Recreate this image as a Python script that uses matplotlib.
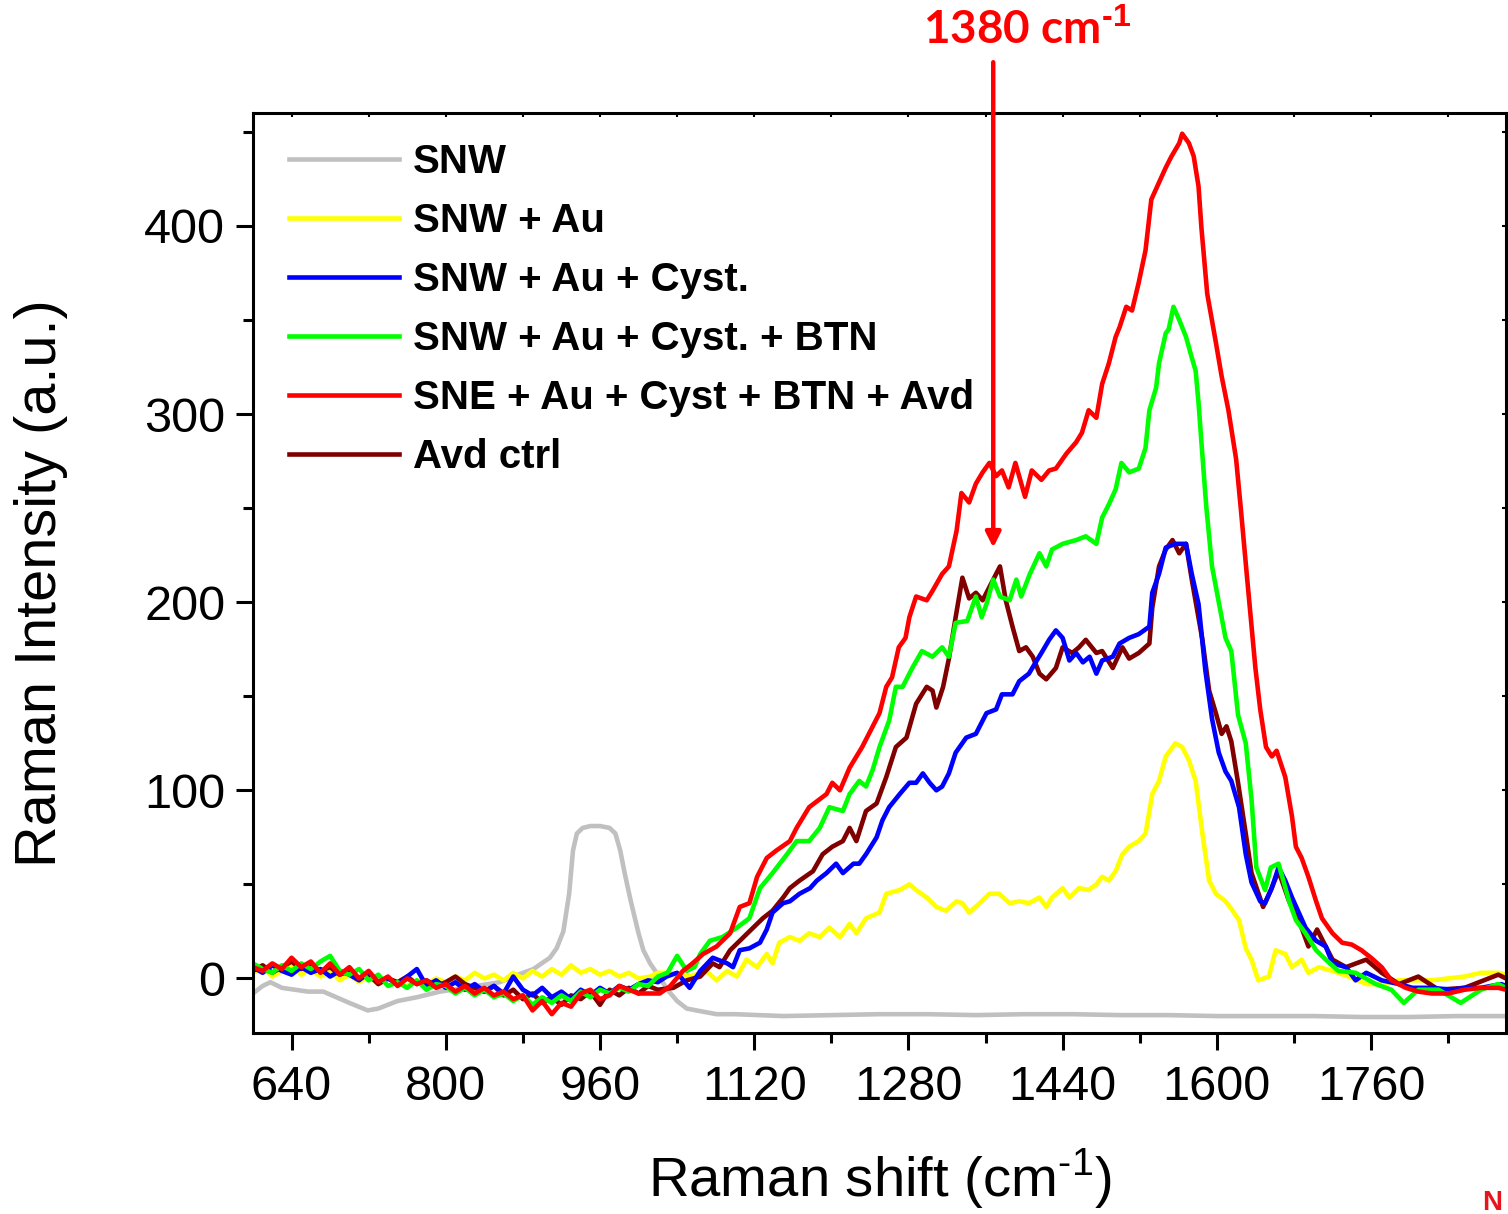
import matplotlib
matplotlib.use("Agg")
import matplotlib.pyplot as plt
from matplotlib.ticker import MultipleLocator
from matplotlib.lines import Line2D

plt.rcParams['font.family'] = ['Liberation Sans', 'DejaVu Sans']
plt.rcParams['mathtext.fontset'] = 'custom'
plt.rcParams['mathtext.rm'] = 'Liberation Sans'
plt.rcParams['mathtext.bf'] = 'Liberation Sans:bold'

# ---- data (Raman shift, intensity) ----
labels = ["SNW", "SNW + Au", "SNW + Au + Cyst.", "SNW + Au + Cyst. + BTN",
          "SNE + Au + Cyst + BTN + Avd", "Avd ctrl"]
colors = ["#c0c0c0", "#ffff00", "#0000ff", "#00ff00", "#ff0000", "#800000"]

snw = [(600, -8), (610, -4), (618, -2), (630, -5), (657, -7), (673, -7), (700, -13),
       (719, -17), (730, -16), (750, -12), (770, -10), (794, -7), (820, -5), (856, -2),
       (875, 2), (891, 5), (908, 11), (915, 16), (922, 25), (928, 45), (932, 68),
       (936, 77), (942, 80), (950, 81), (960, 81), (970, 80), (976, 77), (981, 68),
       (986, 55), (992, 41), (1000, 24), (1005, 15), (1012, 8), (1020, 2), (1030, -6),
       (1040, -12), (1050, -16), (1060, -17), (1081, -19), (1100, -19), (1150, -20),
       (1200, -19.5), (1250, -19), (1300, -19), (1350, -19.5), (1400, -19), (1450, -19),
       (1500, -19.5), (1550, -19.5), (1600, -20), (1650, -20), (1700, -20), (1750, -20.5),
       (1800, -20.5), (1850, -20), (1900, -20)]

snw_au = [(600, 3), (610, 6), (620, 1), (630, 4), (640, 7), (650, 2), (660, 5), (670, 1),
          (680, 4), (690, -1), (700, 2), (710, -2), (720, 1), (730, -3), (740, 0), (750, -2),
          (760, -4), (770, -1), (780, -3), (790, 0), (800, -2), (810, 1), (820, -1), (830, 3),
          (840, 0), (850, 2), (860, -1), (870, 3), (880, 0), (890, 4), (900, 1), (910, 5),
          (920, 2), (930, 7), (940, 3), (950, 5), (960, 2), (970, 4), (980, 1), (990, 3),
          (1000, 0), (1012, 1), (1020, 3), (1033, 3), (1053, 1), (1070, 4), (1081, -1),
          (1092, 4), (1102, 1), (1112, 10), (1123, 6), (1133, 13), (1139, 8), (1146, 19),
          (1157, 22), (1167, 20), (1177, 24), (1188, 22), (1198, 27), (1209, 22), (1219, 29),
          (1226, 24), (1236, 32), (1250, 35), (1257, 45), (1271, 47), (1281, 50), (1288, 47),
          (1299, 43), (1309, 38), (1319, 36), (1330, 41), (1336, 40), (1343, 35), (1354, 40),
          (1364, 45), (1374, 45), (1385, 40), (1395, 41), (1405, 40), (1416, 43), (1423, 38),
          (1429, 43), (1440, 48), (1447, 43), (1457, 48), (1467, 47), (1475, 50), (1481, 54),
          (1488, 52), (1495, 57), (1502, 66), (1509, 70), (1519, 73), (1526, 77), (1533, 98),
          (1540, 105), (1547, 118), (1557, 125), (1564, 123), (1571, 116), (1578, 105),
          (1585, 77), (1592, 52), (1599, 45), (1609, 41), (1615, 37), (1623, 31), (1630, 16),
          (1636, 10), (1643, -1), (1654, 1), (1661, 15), (1671, 13), (1678, 6), (1688, 10),
          (1695, 3), (1706, 6), (1720, 4), (1737, 1), (1755, -3), (1771, -3), (1789, -1),
          (1806, -1), (1823, -1), (1857, 1), (1874, 3), (1892, 3), (1900, 2)]

snw_au_cyst = [(600, 6), (610, 3), (620, 7), (630, 4), (640, 2), (650, 6), (660, 3), (670, 5),
               (680, 1), (690, 4), (700, 2), (710, -1), (720, 3), (730, -2), (740, 0), (750, -3),
               (760, 1), (770, 5), (780, -4), (790, -1), (800, -5), (810, -2), (820, -6),
               (830, -3), (840, -7), (850, -4), (860, -8), (870, 1), (880, -6), (890, -9),
               (900, -5), (910, -10), (920, -7), (930, -11), (940, -6), (950, -9), (960, -5),
               (970, -8), (980, -4), (990, -6), (1000, -3), (1010, -1), (1020, -2), (1029, 1),
               (1040, 3), (1053, -5), (1064, 4), (1077, 11), (1092, 8), (1098, 6), (1105, 15),
               (1115, 16), (1126, 19), (1133, 26), (1139, 35), (1150, 40), (1157, 41),
               (1167, 45), (1178, 48), (1185, 52), (1195, 56), (1205, 61), (1212, 56),
               (1223, 61), (1229, 61), (1236, 66), (1247, 75), (1253, 84), (1260, 91),
               (1271, 98), (1281, 104), (1288, 104), (1295, 109), (1302, 104), (1309, 100),
               (1315, 102), (1322, 109), (1329, 120), (1340, 128), (1350, 130), (1361, 141),
               (1371, 143), (1377, 151), (1388, 151), (1395, 158), (1405, 162), (1412, 168),
               (1418, 173), (1426, 180), (1433, 185), (1440, 181), (1447, 169), (1454, 173),
               (1461, 168), (1468, 171), (1475, 162), (1481, 169), (1492, 171), (1499, 178),
               (1509, 181), (1519, 183), (1530, 187), (1533, 205), (1540, 215), (1547, 229),
               (1557, 231), (1568, 231), (1574, 215), (1581, 199), (1588, 164), (1595, 138),
               (1602, 120), (1609, 110), (1615, 105), (1623, 91), (1630, 66), (1636, 51),
               (1645, 41), (1650, 40), (1657, 48), (1664, 59), (1671, 52), (1678, 43),
               (1685, 35), (1692, 27), (1703, 20), (1713, 17), (1720, 8), (1734, 6), (1744, -1),
               (1755, 3), (1771, -1), (1789, -3), (1803, -5), (1823, -5), (1844, -6),
               (1857, -5), (1874, -5), (1895, -3), (1900, -4)]

snw_au_cyst_btn = [(600, 8), (610, 5), (620, 3), (630, 7), (640, 4), (650, 8), (660, 5),
                   (670, 9), (680, 12), (690, 4), (700, 2), (710, 5), (720, -1), (730, 2),
                   (740, -4), (750, -2), (760, -5), (770, -1), (780, -6), (790, -3), (800, -4),
                   (810, -8), (820, -5), (830, -9), (840, -6), (850, -10), (860, -8), (870, -12),
                   (880, -9), (890, -14), (900, -10), (910, -13), (920, -9), (930, -12),
                   (940, -7), (950, -10), (960, -6), (970, -8), (980, -5), (990, -7), (1000, -3),
                   (1010, -4), (1020, 1), (1030, 3), (1040, 12), (1050, 4), (1058, 6),
                   (1064, 13), (1074, 20), (1087, 22), (1102, 27), (1115, 32), (1126, 48),
                   (1139, 56), (1154, 66), (1164, 73), (1177, 73), (1188, 80), (1198, 91),
                   (1212, 89), (1219, 98), (1229, 105), (1236, 102), (1243, 111), (1250, 123),
                   (1260, 137), (1267, 155), (1274, 155), (1284, 165), (1294, 174), (1305, 171),
                   (1315, 176), (1322, 171), (1329, 189), (1341, 190), (1350, 203), (1356, 192),
                   (1361, 199), (1368, 212), (1375, 203), (1385, 201), (1392, 212), (1397, 203),
                   (1406, 215), (1416, 226), (1423, 219), (1429, 228), (1440, 231), (1454, 233),
                   (1464, 235), (1475, 231), (1481, 245), (1488, 252), (1495, 260), (1501, 274),
                   (1509, 269), (1519, 271), (1526, 282), (1530, 302), (1537, 314), (1540, 327),
                   (1547, 343), (1550, 345), (1555, 357), (1561, 350), (1568, 341), (1574, 330),
                   (1578, 323), (1581, 306), (1584, 285), (1589, 251), (1595, 219), (1602, 200),
                   (1609, 181), (1615, 174), (1622, 140), (1630, 125), (1636, 95), (1641, 59),
                   (1650, 47), (1656, 59), (1664, 61), (1675, 41), (1682, 31), (1692, 24),
                   (1703, 15), (1713, 10), (1726, 4), (1744, 3), (1765, -3), (1781, -6),
                   (1794, -13), (1809, -6), (1830, -6), (1853, -13), (1874, -6), (1892, -3),
                   (1900, -5)]

sne_avd = [(600, 6), (610, 4), (620, 8), (630, 5), (640, 11), (650, 6), (660, 9), (670, 3),
           (680, 8), (690, 2), (700, 6), (710, 0), (720, 4), (730, -2), (740, 1), (750, -4),
           (760, 0), (770, -3), (780, -1), (790, -5), (800, -3), (810, -7), (820, -4), (830, -8),
           (840, -5), (850, -9), (860, -7), (870, -11), (880, -9), (890, -17), (900, -12),
           (910, -19), (920, -13), (930, -15), (940, -8), (950, -6), (960, -11), (970, -9),
           (980, -4), (990, -6), (1000, -8), (1010, -8), (1022, -8), (1033, -4), (1046, 4),
           (1056, 8), (1067, 13), (1081, 17), (1095, 24), (1105, 38), (1115, 40), (1123, 54),
           (1133, 64), (1143, 68), (1157, 73), (1164, 80), (1177, 91), (1195, 98), (1201, 104),
           (1209, 100), (1219, 112), (1232, 123), (1243, 134), (1250, 141), (1257, 155),
           (1263, 160), (1270, 176), (1277, 181), (1281, 192), (1288, 203), (1299, 201),
           (1305, 206), (1315, 215), (1322, 219), (1330, 238), (1335, 258), (1343, 253),
           (1350, 263), (1357, 269), (1364, 274), (1371, 267), (1377, 270), (1384, 261),
           (1391, 274), (1401, 256), (1408, 270), (1418, 265), (1426, 270), (1433, 271),
           (1444, 279), (1454, 285), (1460, 290), (1467, 302), (1475, 298), (1481, 316),
           (1488, 327), (1495, 341), (1499, 346), (1506, 357), (1512, 355), (1519, 370),
           (1526, 387), (1532, 414), (1540, 423), (1547, 431), (1553, 437), (1561, 444),
           (1564, 449), (1571, 444), (1576, 437), (1581, 421), (1584, 399), (1590, 364),
           (1599, 338), (1605, 320), (1612, 302), (1620, 276), (1625, 249), (1631, 215),
           (1640, 165), (1645, 143), (1651, 123), (1657, 118), (1662, 121), (1671, 107),
           (1678, 86), (1682, 70), (1688, 64), (1695, 54), (1703, 41), (1709, 32), (1720, 24),
           (1730, 19), (1740, 18), (1750, 15), (1760, 11), (1771, 6), (1781, -1), (1796, -5),
           (1809, -7), (1823, -8), (1840, -8), (1857, -6), (1874, -5), (1892, -5), (1900, -6)]

avd_ctrl = [(600, 4), (610, 7), (620, 3), (630, 6), (640, 9), (650, 5), (660, 7), (670, 4),
            (680, 6), (690, 2), (700, 4), (710, 0), (720, 2), (730, -3), (740, 0), (750, -2),
            (760, 1), (770, -3), (780, -1), (790, -4), (800, -2), (810, 1), (820, -3), (830, -5),
            (840, -7), (850, -4), (860, -9), (870, -6), (880, -11), (890, -8), (900, -13),
            (910, -10), (920, -14), (930, -9), (940, -11), (950, -7), (960, -14), (970, -6),
            (980, -9), (990, -5), (1000, -8), (1010, -4), (1020, -6), (1036, -5), (1050, -1),
            (1064, 1), (1077, 8), (1084, 6), (1095, 15), (1105, 20), (1119, 27), (1129, 32),
            (1139, 36), (1150, 43), (1157, 48), (1167, 52), (1181, 57), (1191, 66), (1201, 70),
            (1212, 73), (1219, 80), (1226, 73), (1236, 89), (1247, 93), (1257, 107), (1267, 123),
            (1278, 128), (1288, 146), (1299, 155), (1305, 153), (1309, 144), (1316, 155),
            (1322, 170), (1329, 192), (1336, 213), (1343, 202), (1350, 205), (1357, 201),
            (1368, 212), (1375, 219), (1381, 201), (1388, 187), (1395, 174), (1402, 176),
            (1409, 171), (1416, 162), (1423, 159), (1433, 165), (1440, 176), (1450, 173),
            (1457, 176), (1464, 180), (1475, 173), (1481, 174), (1492, 165), (1502, 176),
            (1509, 170), (1519, 173), (1530, 178), (1533, 197), (1540, 219), (1547, 228),
            (1554, 233), (1561, 226), (1568, 231), (1574, 212), (1585, 180), (1592, 153),
            (1599, 141), (1605, 130), (1610, 134), (1615, 126), (1622, 104), (1630, 77),
            (1636, 56), (1648, 38), (1656, 47), (1664, 57), (1675, 41), (1685, 31), (1695, 17),
            (1704, 26), (1713, 17), (1720, 10), (1734, 6), (1755, 10), (1771, 3), (1789, -3),
            (1809, 1), (1830, -6), (1857, -5), (1892, 2), (1900, 0)]

series = [snw, snw_au, snw_au_cyst, snw_au_cyst_btn, sne_avd, avd_ctrl]
draw_order = [0, 1, 5, 2, 3, 4]  # red ends up on top

peak_pos = 1368      # 1380 cm-1 marker (as drawn)
peak_tip = 229
peak_tail = 487

HY = "\u2010"  # short hyphen for the cm-1 superscripts

# ---- figure ----
fig = plt.figure(figsize=(15.08, 12.14), dpi=100)
ax = fig.add_axes([253 / 1508, 1 - 1033 / 1214, 1253 / 1508, 920 / 1214])

for i in draw_order:
    xs = [p[0] for p in series[i]]
    ys = [p[1] for p in series[i]]
    ax.plot(xs, ys, color=colors[i], lw=3.3, solid_joinstyle='round')

ax.set_xlim(600, 1900)
ax.set_ylim(-29, 460)
ax.set_xticks([640, 800, 960, 1120, 1280, 1440, 1600, 1760])
ax.xaxis.set_minor_locator(MultipleLocator(80))
ax.yaxis.set_major_locator(MultipleLocator(100))
ax.yaxis.set_minor_locator(MultipleLocator(50))

for s in ax.spines.values():
    s.set_linewidth(2.2)
ax.tick_params(which='major', direction='out', length=12, width=2.2, labelsize=35, pad=8)
ax.tick_params(which='minor', direction='out', length=7, width=2.2)
ax.tick_params(axis='x', which='major', pad=11)

top = ax.secondary_xaxis('top')
top.set_xticks([640, 800, 960, 1120, 1280, 1440, 1600, 1760])
top.xaxis.set_minor_locator(MultipleLocator(80))
top.tick_params(which='both', direction='in', length=3, width=1.5, labeltop=False)
right = ax.secondary_yaxis('right')
right.yaxis.set_minor_locator(MultipleLocator(50))
right.tick_params(which='both', direction='in', length=3, width=1.5, labelright=False)

ax.set_xlabel("Raman shift (cm$^{" + HY + "1}$)", fontsize=40.5)
ax.set_ylabel("Raman Intensity (a.u.)", fontsize=41.5)
ax.xaxis.set_label_coords(0.5, -0.124)
ax.yaxis.set_label_coords(-0.148, 0.489)

handles = [Line2D([], [], color=c, lw=3.3) for c in colors]
ax.legend(handles, labels, loc='upper left', bbox_to_anchor=(0.0286, 0.967),
          frameon=False, borderpad=0, borderaxespad=0, handlelength=2.73,
          handletextpad=0.35, labelspacing=0.52,
          prop={'family': 'Liberation Sans', 'weight': 'bold', 'size': 29})

# 1380 cm-1 arrow and label
ax.annotate('', xy=(peak_pos, peak_tip), xytext=(peak_pos, peak_tail),
            annotation_clip=False,
            arrowprops=dict(arrowstyle='-|>,head_length=0.9,head_width=0.45',
                            color='#ff0000', lw=3.2, shrinkA=0, shrinkB=0))
fig.text(1027 / 1508, 1 - 30 / 1214, "1380 cm$^{\\mathbf{" + HY + "1}}$", color='#ff0000',
         fontsize=33, fontweight='bold', family=['Lato', 'DejaVu Sans'],
         ha='center', va='center')

fig.text(1482 / 1508, 1 - 1190 / 1214, "N", color='#e8141c', fontsize=20,
         fontweight='bold', ha='left', va='top')

fig.savefig("out.png", dpi=100)
